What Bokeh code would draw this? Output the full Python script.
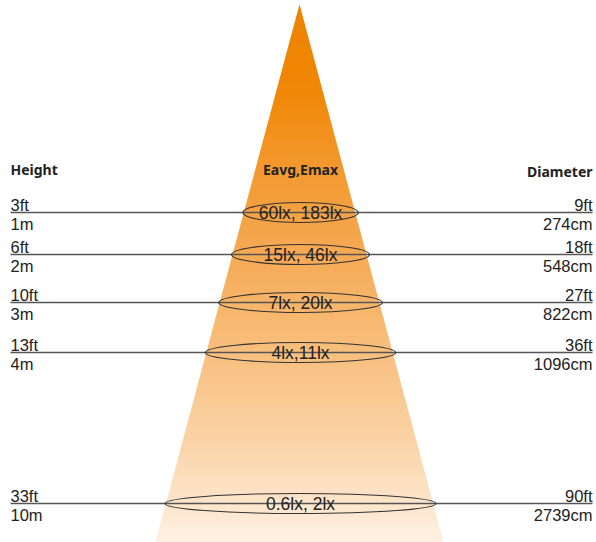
from bokeh.plotting import figure
from bokeh.models import Range1d, ColumnDataSource
from bokeh.embed import file_html
from bokeh.resources import INLINE
from bokeh.core.properties import value

# ---- data ----
heights_ft = ["3ft", "6ft", "10ft", "13ft", "33ft"]
heights_m = ["1m", "2m", "3m", "4m", "10m"]
diam_ft = ["9ft", "18ft", "27ft", "36ft", "90ft"]
diam_cm = ["274cm", "548cm", "822cm", "1096cm", "2739cm"]
lux = ["60lx, 183lx", "15lx, 46lx", "7lx, 20lx", "4lx,11lx", "0.6lx, 2lx"]
headers = ["Height", "Eavg,Emax", "Diameter"]

# ---- layout (pixel-like coordinates) ----
row_y = [212, 254, 302, 352, 503]
apex_x, apex_y = 299, 4
base_y, base_half = 542, 144
left_x, right_x = 10, 592

W, H = 596, 542
p = figure(width=W, height=H, output_backend="svg", toolbar_location=None,
           x_range=Range1d(0, W), y_range=Range1d(H, 0),
           min_border=0, outline_line_color=None, background_fill_color="white",
           border_fill_color="white")
p.xaxis.visible = False
p.yaxis.visible = False
p.xgrid.visible = False
p.ygrid.visible = False

def half_w(y):
    return base_half * (y - apex_y) / (base_y - apex_y)

# gradient cone as horizontal strips
stops = [(4, (0xEF, 0x82, 0x00)), (90, (0xF0, 0x87, 0x06)), (170, (0xF3, 0x99, 0x30)),
         (254, (0xF5, 0xAA, 0x55)), (352, (0xF8, 0xBF, 0x7E)), (440, (0xFA, 0xD3, 0xA6)),
         (542, (0xFE, 0xF1, 0xE3))]

def col(y):
    for (y0, c0), (y1, c1) in zip(stops[:-1], stops[1:]):
        if y0 <= y <= y1:
            t = (y - y0) / (y1 - y0)
            c = [round(a + (b - a) * t) for a, b in zip(c0, c1)]
            return "#%02x%02x%02x" % tuple(c)
    return "#%02x%02x%02x" % stops[-1][1]

xs, ys, cs = [], [], []
step = 3
y = apex_y
while y < base_y:
    y0 = y
    y1 = min(y + step + 0.8, base_y)
    h0, h1 = half_w(y0), half_w(y1)
    xs.append([apex_x - h0, apex_x + h0, apex_x + h1, apex_x - h1])
    ys.append([y0, y0, y1, y1])
    cs.append(col(y0 + step / 2))
    y += step
p.patches(xs=xs, ys=ys, fill_color=cs, line_color=None)

# horizontal lines
src = ColumnDataSource(dict(y=row_y, x0=[left_x] * 5, x1=[right_x] * 5,
                            hft=heights_ft, hm=heights_m, dft=diam_ft, dcm=diam_cm, lux=lux,
                            yt=[v - 8 for v in row_y], yb=[v + 11 for v in row_y],
                            cx=[apex_x + 1] * 5,
                            ew=[2 * half_w(v) + 4 for v in row_y], eh=[20] * 5))
p.segment(x0="x0", y0="y", x1="x1", y1="y", source=src, line_color="#555555", line_width=1.3)
p.ellipse(x="cx", y="y", width="ew", height="eh", source=src, fill_color=None,
          line_color="#333333", line_width=1.1)

font = value("Liberation Sans")
side = "16.5px"
p.text(x="x0", y="yt", text="hft", source=src, text_font=font, text_font_size=side,
       text_color="#222222", text_baseline="middle", text_align="left")
p.text(x="x0", y="yb", text="hm", source=src, text_font=font, text_font_size=side,
       text_color="#222222", text_baseline="middle", text_align="left")
p.text(x="x1", y="yt", text="dft", source=src, text_font=font, text_font_size=side,
       text_color="#222222", text_baseline="middle", text_align="right")
p.text(x="x1", y="yb", text="dcm", source=src, text_font=font, text_font_size=side,
       text_color="#222222", text_baseline="middle", text_align="right")
p.text(x="cx", y="y", text="lux", source=src, text_font=font, text_font_size="17.5px",
       text_color="#222222", text_baseline="middle", text_align="center")

# headers
p.text(x=[left_x, apex_x + 1, right_x], y=[169, 169, 171], text=headers,
       text_font=value("Noto Sans"), text_font_style="bold", text_font_size="14px",
       text_color="#222222", text_baseline="middle",
       text_align=["left", "center", "right"])

open("out.html", "w").write(file_html(p, INLINE))
